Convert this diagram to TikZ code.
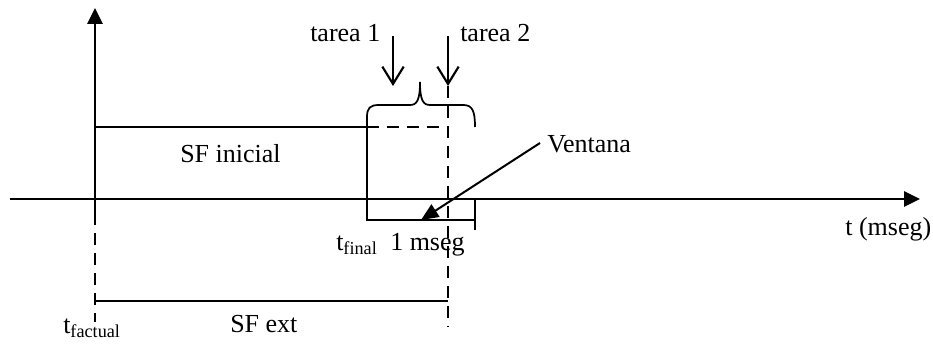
\documentclass[tikz,border=0pt]{standalone}
\usepackage{fontspec}
\setmainfont{Liberation Serif}
\usetikzlibrary{arrows.meta, positioning}

\tikzset{
    axis/.style={line width=1.7pt, -{Triangle[length=12pt, width=11.5pt]}},
    plain/.style={line width=1.3pt},
    dashline/.style={line width=1.3pt, dash pattern=on 9pt off 6pt},
    task/.style={line width=1.6pt, -{Straight Barb[length=13pt, width=16pt, line width=1.6pt]}},
    lbl/.style={inner sep=0pt, anchor=base west, font=\fontsize{19.5pt}{23pt}\selectfont},
}

\begin{document}
\begin{tikzpicture}[x=0.75pt, y=-0.75pt]
    \useasboundingbox (0, 0) rectangle (933, 346);

    % axes
    \coordinate (xl) at (10, 199);
    \coordinate (xr) at (920, 199);
    \coordinate (yb) at (95, 213);
    \coordinate (yt) at (95, 8);
    \draw[axis] (xl) -- (xr);
    \draw[axis] (yb) -- (yt);

    % points of the picture
    \coordinate (ini) at (95, 127);
    \coordinate (wl) at (367, 127);
    \coordinate (wr) at (475, 127);
    \coordinate (fin) at (448, 127);
    \coordinate (wlb) at (367, 220);
    \coordinate (wrb) at (475, 220);
    \coordinate (wrt) at (475, 199);
    \coordinate (wre) at (475, 230);
    \coordinate (a1t) at (393, 36);
    \coordinate (a1b) at (393, 86);
    \coordinate (a2t) at (448, 36);
    \coordinate (a2b) at (448, 86);
    \coordinate (fe) at (448, 327);
    \coordinate (le) at (95, 322);
    \coordinate (el) at (95, 301);
    \coordinate (er) at (448, 301);
    \coordinate (vs) at (540, 143);
    \coordinate (vt) at (421, 220);

    % SF inicial and the window
    \draw[plain] (ini) -- (wl);
    \draw[dashline] (wl) -- (fin);
    \draw[plain] (wl) -- (wlb) -- (wrb);
    \draw[plain] (wrt) -- (wre);
    \draw[plain] (wl) -- (367, 117) .. controls (367, 108) and (370, 105) .. (379, 105)
        -- (410, 105) .. controls (417, 105) and (420, 100) .. (420, 82)
        .. controls (420, 100) and (423, 105) .. (430, 105)
        -- (463, 105) .. controls (472, 105) and (475, 110) .. (wr);

    % tasks
    \draw[task] (a1t) -- (a1b);
    \draw[task] (a2t) -- (a2b);
    \draw[dashline] (a2b) -- (fe);

    % SF ext
    \draw[dashline] (yb) -- (le);
    \draw[plain] (el) -- (er);

    % Ventana
    \draw[line width=1.5pt, -{Triangle[length=13pt, width=11pt]}] (vs) -- (vt);

    % labels
    \node[lbl] (tarea1) at (310, 42) {tarea 1};
    \node[lbl] (tarea2) at (460, 42) {tarea 2};
    \node[lbl] (sfini) at (180, 163) {SF inicial};
    \node[lbl] (ventana) at (547, 152) {Ventana};
    \node[lbl] (tfinal) at (336, 250) {t\textsubscript{final}};
    \node[lbl] (mseg) at (390, 250) {1 mseg};
    \node[lbl] (taxis) at (845, 235) {t (mseg)};
    \node[lbl] (tfact) at (63, 333) {t\textsubscript{factual}};
    \node[lbl] (sfext) at (230, 332) {SF ext};
\end{tikzpicture}
\end{document}
